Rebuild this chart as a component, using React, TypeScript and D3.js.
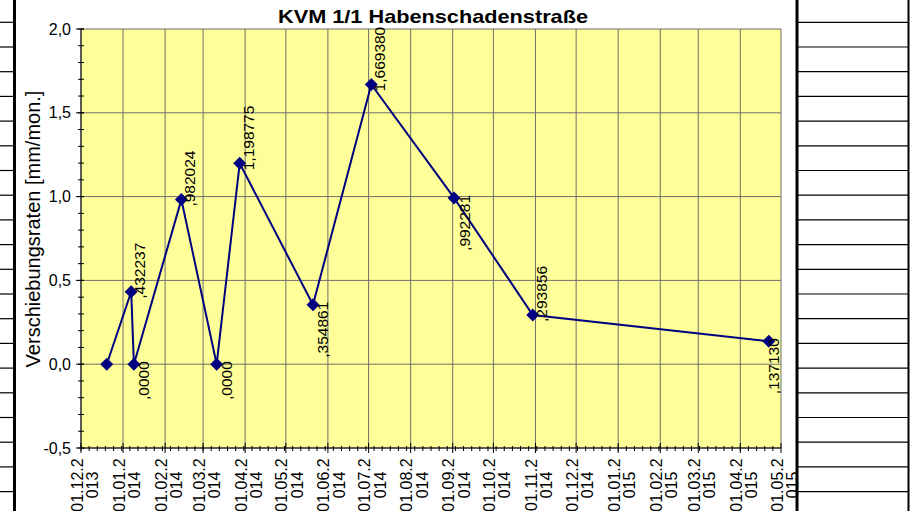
import React from 'react';
import * as d3 from 'd3';

// Messpunkte (Datum, Verschiebungsrate in mm/Monat)
const pointDates = [
  '20.12.2013', '07.01.2014', '09.01.2014', '13.02.2014', '11.03.2014', '28.03.2014',
  '21.05.2014', '03.07.2014', '02.09.2014', '30.10.2014', '22.04.2015',
];
const rates = [0, 0.432237, 0, 0.982024, 0, 1.198775, 0.354861, 1.66938, 0.992281, 0.293856, 0.13713];
const rateLabels = ['', ',432237', ',0000', ',982024', ',0000', '1,198775', ',354861', '1,669380', ',992281', ',293856', ',137130'];
const labelSide = ['none', 'up', 'down', 'up', 'down', 'up', 'down', 'up', 'down', 'up', 'down'];

const xTickLabels = [
  '01.12.2013', '01.01.2014', '01.02.2014', '01.03.2014', '01.04.2014', '01.05.2014',
  '01.06.2014', '01.07.2014', '01.08.2014', '01.09.2014', '01.10.2014', '01.11.2014',
  '01.12.2014', '01.01.2015', '01.02.2015', '01.03.2015', '01.04.2015', '01.05.2015',
];
const yTicks = [-0.5, 0, 0.5, 1.0, 1.5, 2.0];

const W = 915;
const H = 511;
const plot = { left: 81, right: 781, top: 29, bottom: 448 };
const font = '"Liberation Sans", Arial, sans-serif';

const parse = d3.utcParse('%d.%m.%Y');

const App = () => {
  const xTicks = xTickLabels.map(s => parse(s) as Date);
  const x = d3.scaleUtc()
    .domain([xTicks[0], xTicks[xTicks.length - 1]])
    .range([plot.left, plot.right]);
  const y = d3.scaleLinear().domain([-0.5, 2.0]).range([plot.bottom, plot.top]);

  const pts = pointDates.map((d, i) => ({ x: x(parse(d) as Date), y: y(rates[i]), i }));

  const line = d3.line<{ x: number; y: number }>().x(d => d.x).y(d => d.y);

  // Nebenstriche: alle 6 Tage
  const minorX = d3.utcDay.range(xTicks[0], xTicks[xTicks.length - 1], 1)
    .filter((_, i) => i % 6 === 0);
  const minorY = d3.range(-0.5, 2.0001, 0.1);

  const fmtY = (v: number) => d3.format('.1f')(v).replace('.', ',').replace('−', '-');

  // Zellenraster der Tabelle hinter dem Diagramm
  const rows = d3.range(22.3, H, 24.7);
  const grid = '#6e6e6e';
  const m = 6.5;

  return (
    <svg width={W} height={H} style={{ position: 'fixed', left: 0, top: 0, background: '#fff' }} fontFamily={font}>
      {/* Tabellenzellen links */}
      {rows.map((r, i) => (
        <line key={'l' + i} x1={0} x2={14} y1={r} y2={r} stroke="#000" strokeWidth={1.2} />
      ))}
      {/* Tabellenzellen rechts */}
      {rows.map((r, i) => (
        <line key={'r' + i} x1={798} x2={908} y1={r} y2={r} stroke="#000" strokeWidth={1.2} />
      ))}

      {/* Zeichnungsfläche */}
      <rect x={plot.left} y={plot.top} width={plot.right - plot.left} height={plot.bottom - plot.top} fill="#FFFF99" />

      {/* Gitterlinien */}
      {xTicks.map((t, i) => (
        <line key={'gx' + i} x1={x(t)} x2={x(t)} y1={plot.top} y2={plot.bottom} stroke={grid} strokeWidth={1} />
      ))}
      {yTicks.map((t, i) => (
        <line key={'gy' + i} x1={plot.left} x2={plot.right} y1={y(t)} y2={y(t)} stroke={grid} strokeWidth={1} />
      ))}

      {/* Achsen */}
      <line x1={plot.left} x2={plot.left} y1={plot.top} y2={plot.bottom} stroke="#000" />
      <line x1={plot.left} x2={plot.right} y1={plot.bottom} y2={plot.bottom} stroke="#000" />

      {minorY.map((t, i) => (
        <line key={'my' + i} x1={plot.left - 3} x2={plot.left + 3} y1={y(t)} y2={y(t)} stroke="#000" />
      ))}
      {yTicks.map((t, i) => (
        <g key={'ty' + i}>
          <line x1={plot.left - 5} x2={plot.left + 3} y1={y(t)} y2={y(t)} stroke="#000" />
          <text x={71} y={y(t) + 5.5} textAnchor="end" fontSize={16} fill="#000">{fmtY(t)}</text>
        </g>
      ))}

      {minorX.map((t, i) => (
        <line key={'mx' + i} x1={x(t)} x2={x(t)} y1={plot.bottom - 2} y2={plot.bottom + 3} stroke="#000" />
      ))}
      {xTicks.map((t, i) => {
        const tx = x(t);
        const s = xTickLabels[i];
        return (
          <g key={'tx' + i}>
            <line x1={tx} x2={tx} y1={plot.bottom - 5} y2={plot.bottom + 5} stroke="#000" />
            <text transform={`translate(${tx + 1.5},485) rotate(-90)`} textAnchor="middle" fontSize={16} fill="#000">{s.slice(0, 7)}</text>
            <text transform={`translate(${tx + 17},485) rotate(-90)`} textAnchor="middle" fontSize={16} fill="#000">{s.slice(7)}</text>
          </g>
        );
      })}

      {/* Messreihe */}
      <path d={line(pts) ?? ''} fill="none" stroke="#000080" strokeWidth={2} />
      {pts.map(p => (
        <path key={'m' + p.i} d={`M${p.x},${p.y - m}L${p.x + m},${p.y}L${p.x},${p.y + m}L${p.x - m},${p.y}Z`} fill="#000080" />
      ))}

      {/* Datenbeschriftungen */}
      {pts.map(p => {
        const side = labelSide[p.i];
        if (side === 'none') return null;
        if (side === 'up') {
          return (
            <text key={'v' + p.i} transform={`translate(${p.x + 14},${p.y + 7}) rotate(-90)`} textAnchor="start" fontSize={15.5} fill="#000">{rateLabels[p.i]}</text>
          );
        }
        const bx = Math.min(p.x + 15.5, plot.right - 2);
        return (
          <text key={'v' + p.i} transform={`translate(${bx},${p.y - 3}) rotate(-90)`} textAnchor="end" fontSize={15.5} fill="#000">{rateLabels[p.i]}</text>
        );
      })}

      {/* Titel */}
      <text x={433} y={23} textAnchor="middle" fontSize={19} fontWeight="bold" fill="#000" textLength={310} lengthAdjust="spacingAndGlyphs">KVM 1/1 Habenschadenstraße</text>

      {/* Y-Achsentitel */}
      <text transform="translate(40,229) rotate(-90)" textAnchor="middle" fontSize={20} fill="#000">Verschiebungsraten [mm/mon.]</text>

      {/* Diagrammrahmen */}
      <line x1={14.5} x2={14.5} y1={0} y2={H} stroke="#000" strokeWidth={3} />
      <line x1={797} x2={797} y1={0} y2={H} stroke="#000" strokeWidth={3} />
      <line x1={908.5} x2={908.5} y1={0} y2={H} stroke="#000" strokeWidth={2} />
    </svg>
  );
};

export default App;
